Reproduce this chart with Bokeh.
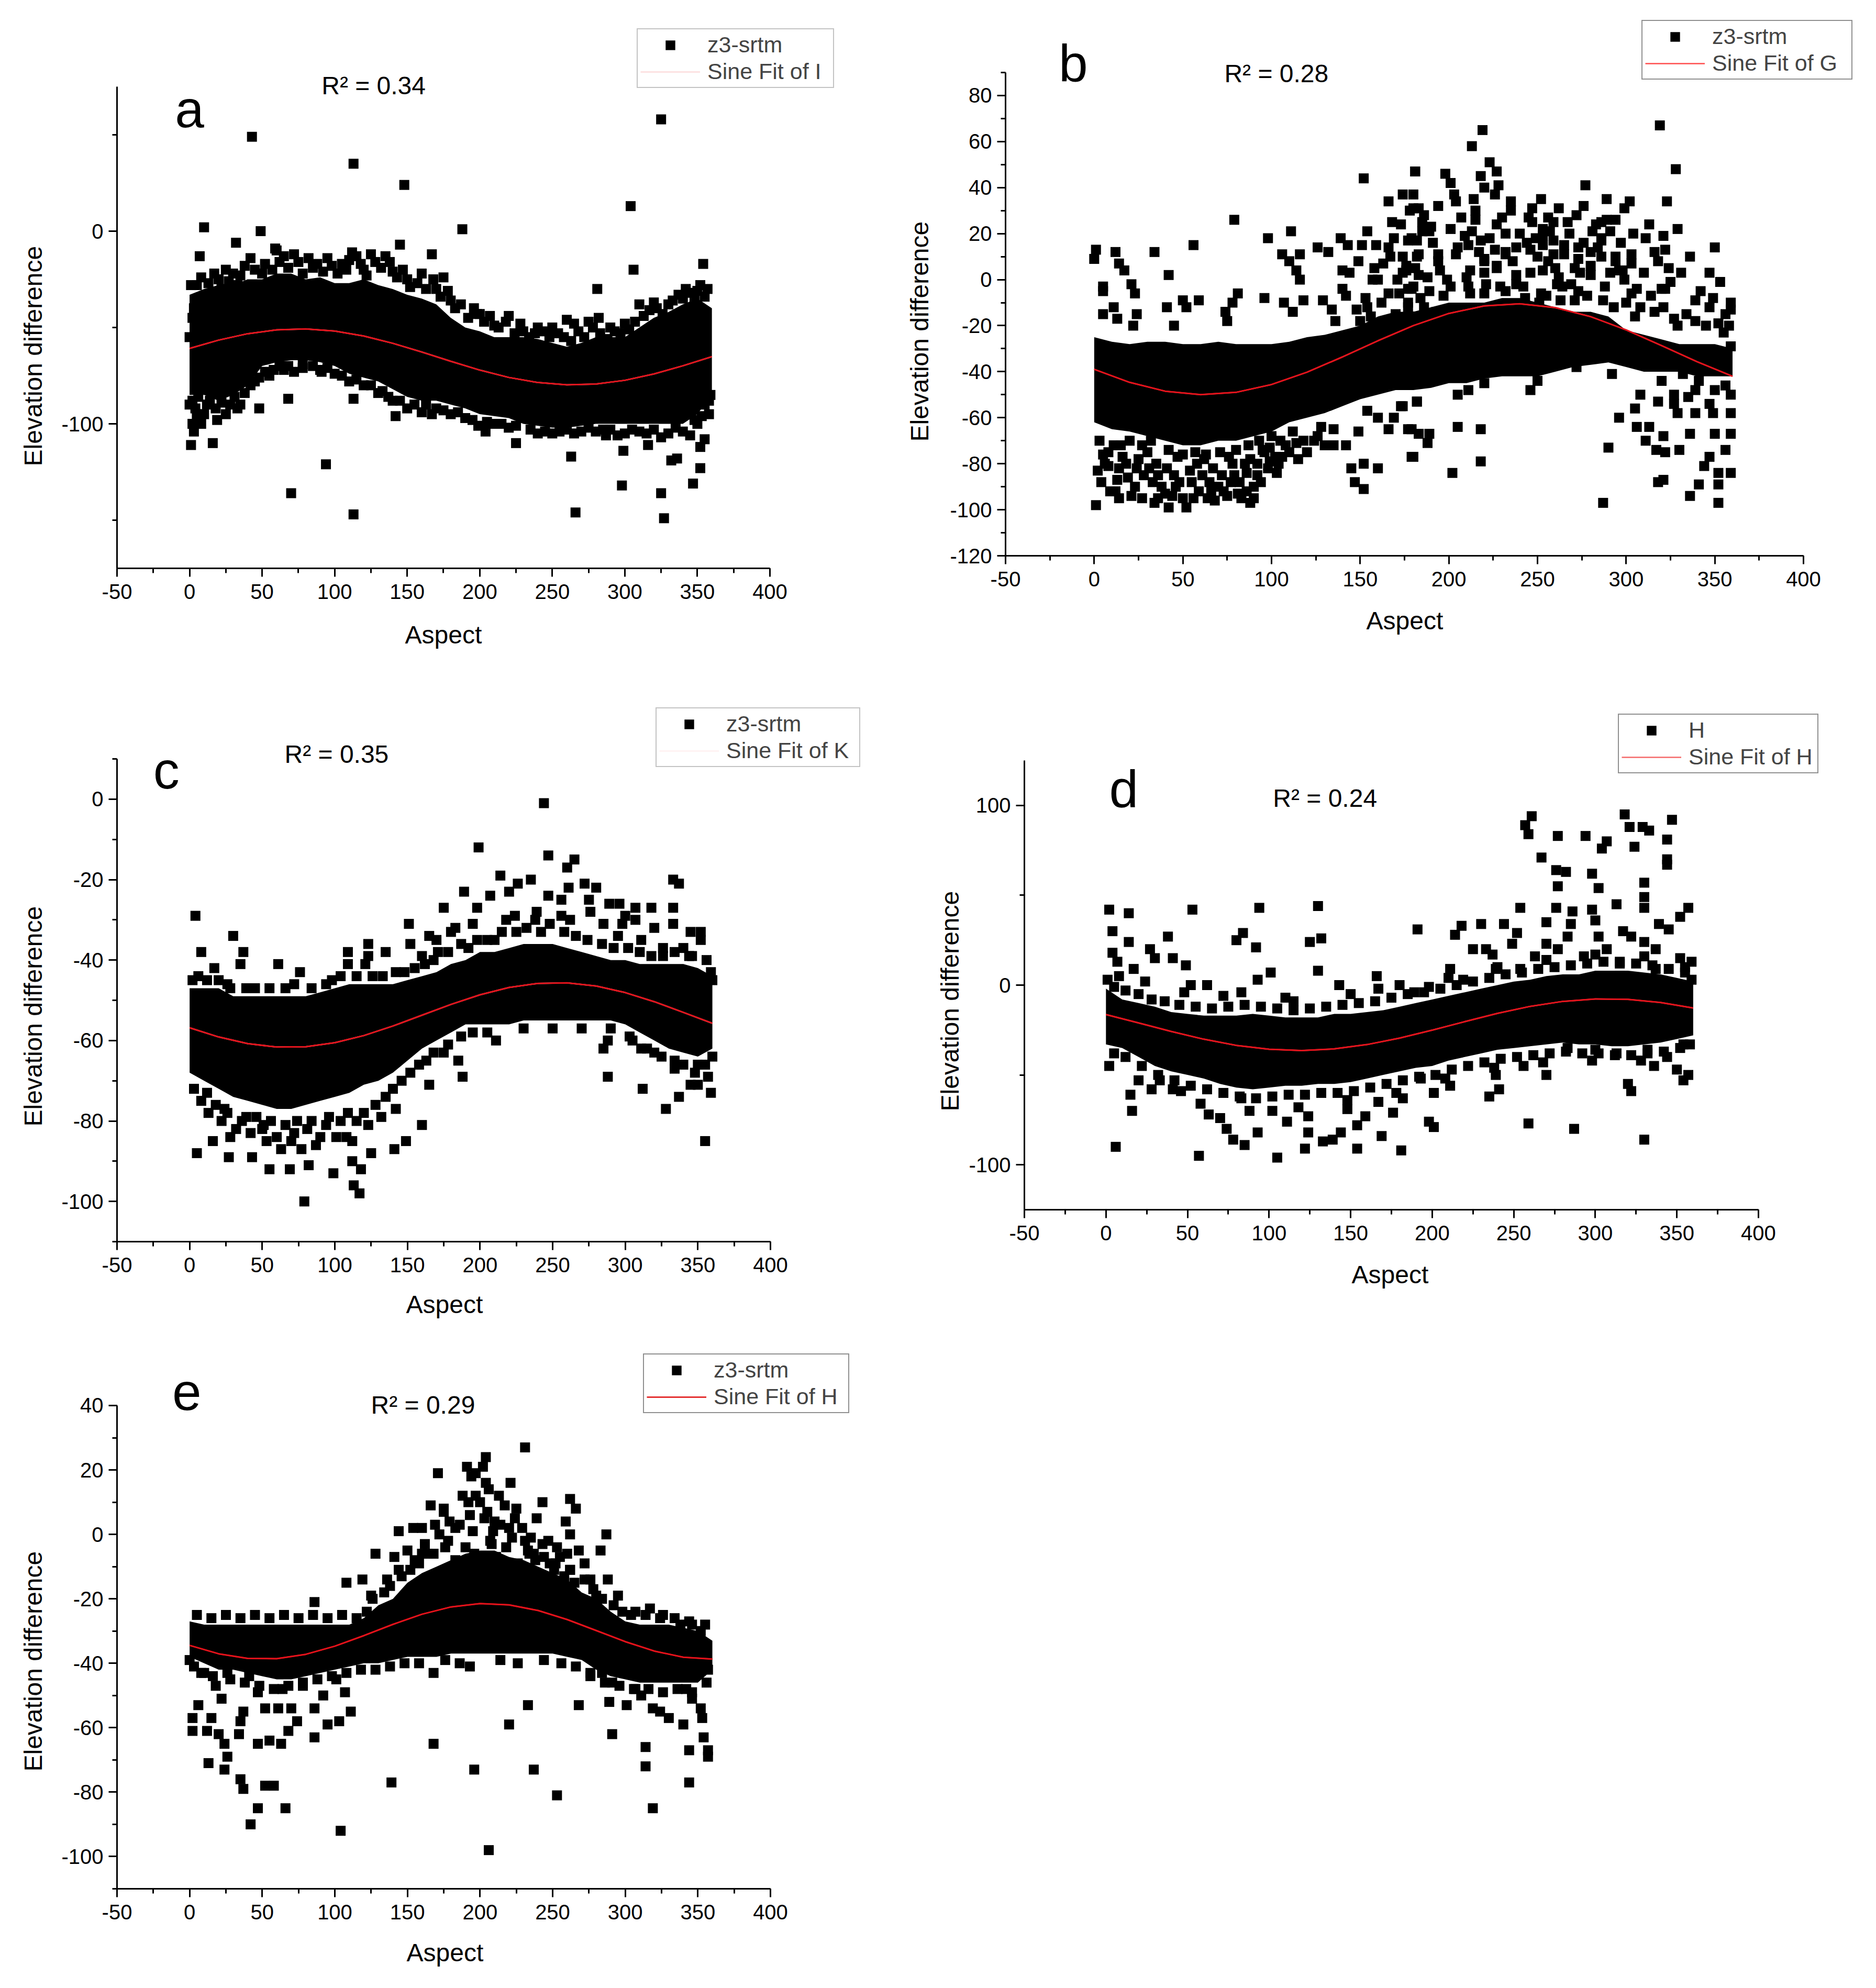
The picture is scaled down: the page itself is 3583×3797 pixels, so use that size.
from bokeh.plotting import figure
from bokeh.models import (Range1d, SingleIntervalTicker, Label, Legend, LegendItem, Title,
                          PrintfTickFormatter)
from bokeh.layouts import column, row
from bokeh.embed import file_html
from bokeh.resources import INLINE

FONT = "Liberation Sans"

band_aspect = list(range(0, 361, 10))
fit_aspect = list(range(0, 361, 20))

# ---------------- panel a ----------------
a_points = [(43,49),(113,35),(148,24),(325,58),(304,13),(10,2),(49,0),(188,1),(32,-6),(145,-7),(7,-13),(59,-9),
            (167,-12),(306,-20),(354,-17),(175,-24),(281,-30),(282,-45),(198,-43),(220,-44),
            (1,-111),(16,-110),(19,-98),(33,-92),(48,-92),(68,-87),(94,-121),(70,-136),(113,-147),(113,-87),
            (142,-96),(91,-73),(78,-71),(199,-101),(204,-104),(225,-110),(263,-117),(266,-146),(287,-106),
            (299,-114),(298,-132),(316,-111),(325,-136),(327,-149),(332,-119),(336,-118),(347,-131),(352,-123),
            (352,-112),(355,-108),(358,-95),(359,-85),
            (60,-10),(65,-13),(75,-16),(85,-19),(95,-14),(105,-17),(110,-15),(115,-13),(120,-20),(125,-12),
            (135,-13),(140,-21),(150,-25),(160,-22),(170,-30),(180,-36),(200,-43),(210,-49),(230,-52),(240,-50),
            (250,-50),(260,-46),(265,-48),(275,-47),(290,-50),(300,-48),(310,-38),(320,-37),(330,-38),(340,-35),
            (345,-32),(350,-31),(355,-34),(20,-25),(30,-22),(45,-20),(50,-22),(3,-40),(5,-28),(25,-20),(35,-23),
            (5,-95),(8,-100),(12,-90),(25,-95),(35,-90),(45,-78),(55,-75),(65,-72),(100,-74),(120,-80),(130,-84),
            (140,-88),(150,-92),(160,-94),(170,-92),(180,-95),(190,-97),(210,-100),(220,-102),(240,-105),
            (250,-105),(260,-103),(270,-104),(285,-103),(300,-105),(310,-104),(330,-105),(340,-104),(350,-100),
            (355,-90),(2,-100),(0,-90),(3,-104),
            (38,-18),(42,-14),(52,-17),(57,-20),(62,-16),(68,-19),(72,-12),(78,-22),(82,-14),(88,-17),(92,-21),
            (98,-18),(102,-22),(108,-20),(112,-11),(118,-17),(122,-23),(128,-16),(132,-19),(138,-16),(143,-24),
            (147,-20),(152,-29),(157,-27),(163,-30),(168,-25),(173,-34),(178,-31),(183,-40),(187,-38),(192,-45),
            (196,-40),(203,-47),(207,-44),(213,-50),(218,-47),(224,-53),(228,-48),(234,-55),(238,-53),(244,-52),
            (248,-55),(254,-53),(258,-55),(263,-57),(268,-52),(272,-55),(278,-50),(283,-53),(288,-56),(293,-52),
            (297,-53),(303,-51),(307,-47),(313,-44),(317,-41),(322,-40),(326,-43),(333,-36),(337,-33),(342,-30),
            (348,-36),(352,-28),(357,-30),(1,-28),(8,-24),(13,-27),(17,-22),(22,-30),(27,-26),(33,-28),(2,-45),
            (0,-55),
            (2,-88),(4,-92),(6,-86),(10,-95),(14,-88),(18,-92),(22,-89),(28,-90),(31,-86),(38,-84),(42,-80),
            (48,-76),(52,-73),(58,-72),(62,-70),(68,-70),(72,-73),(78,-69),(85,-70),(90,-72),(95,-71),(105,-75),
            (110,-78),(115,-77),(125,-80),(133,-83),(137,-86),(145,-88),(155,-90),(163,-90),(167,-95),(175,-93),
            (185,-94),(195,-98),(205,-99),(215,-100),(225,-101),(235,-103),(245,-104),(255,-104),(265,-105),
            (275,-102),(280,-104),(290,-103),(295,-106),(305,-103),(315,-105),(320,-103),(325,-107),(335,-102),
            (345,-106),(348,-98),(353,-96),(358,-88)]
a_band_hi = [-33,-30,-28,-28,-25,-25,-22,-22,-25,-24,-27,-27,-25,-28,-30,-33,-35,-38,-45,-50,-52,-55,-55,-55,
             -56,-58,-60,-58,-55,-55,-55,-50,-45,-42,-38,-35,-40]
a_band_lo = [-85,-85,-88,-85,-80,-70,-68,-67,-67,-68,-70,-74,-76,-78,-82,-86,-88,-88,-90,-92,-95,-96,-97,-100,
             -101,-102,-102,-101,-100,-100,-100,-100,-100,-100,-100,-95,-85]
a_fit = [-60.85,-56.56,-53.23,-51.21,-50.73,-51.84,-54.42,-58.18,-62.72,-67.54,-72.10,-75.92,-78.56,-79.75,
         -79.35,-77.41,-74.13,-69.88,-65.13]

# ---------------- panel b ----------------
b_points = [(1,13),(0,9),(12,12),(34,12),(56,15),(42,2),(79,26),(98,18),(111,21),(14,7),(17,4),(21,-2),(23,-6),
            (5,-3),(5,-5),(11,-12),(5,-15),(13,-17),(24,-15),(22,-20),(41,-12),(50,-9),(59,-9),(52,-12),(45,-20),
            (74,-14),(81,-6),(78,-10),(75,-18),(96,-8),(106,11),(110,8),(116,11),(114,4),(116,0),(107,-10),(118,-9),
            (112,-14),(126,14),(132,12),(129,-9),(134,-13),(136,-18),(139,18),(143,15),(140,4),(144,3),(140,-4),
            (142,-7),(152,44),(154,21),(151,15),(149,8),(148,-13),(154,-12),(157,0),(159,15),(163,7),(166,34),
            (166,14),(169,18),(173,24),(174,37),(181,47),(180,37),(178,30),(183,31),(176,6),(171,0),(179,-4),
            (177,-12),(166,-6),(160,0),(182,17),(185,21),
            (1,-98),(2,-83),(5,-76),(8,-81),(12,-92),(21,-94),(13,-87),(16,-77),(24,-82),(30,-75),(33,-88),(34,-97),
            (42,-99),(44,-94),(41,-82),(52,-99),(56,-95),(47,-77),(61,-85),(64,-95),(67,-82),(75,-94),(83,-95),
            (88,-97),(79,-85),(76,-77),(86,-84),(92,-80),(98,-82),(103,-84),(106,-77),(95,-74),(100,-68),(114,-71),
            (124,-70),(128,-64),(135,-65),(135,-72),(142,-72),(149,-66),(145,-82),(152,-80),(147,-88),(152,-91),
            (160,-82),(166,-65),(160,-60),(169,-60),(173,-55),(154,-57),(177,-65),(180,-77),(183,-67),(182,-53),
            (176,-45),
            (3,-70),(8,-75),(15,-72),(18,-80),(25,-78),(28,-85),(35,-80),(38,-90),(45,-85),(48,-88),(55,-88),
            (58,-80),(65,-88),(70,-90),(72,-85),(78,-80),(82,-88),(88,-78),(92,-85),(96,-75),(102,-77),(108,-72),
            (112,-66),(118,-70),
            (4,-88),(9,-92),(14,-95),(19,-86),(23,-90),(27,-95),(31,-82),(36,-85),(40,-93),(46,-90),(50,-95),
            (54,-83),(59,-92),(62,-78),(68,-96),(73,-92),(77,-88),(81,-93),(85,-80),(90,-90),(94,-88),(99,-79),
            (104,-80),(110,-75),(115,-78),(120,-75),(126,-68),(130,-72),(6,-80),(11,-72),(20,-70),(27,-72),
            (32,-70),(42,-74),(50,-76),(57,-75),(63,-76),(71,-75),(80,-74),(87,-72),(93,-70),(99,-73),(105,-70),
            (14,-82),(36,-95),(66,-92),(86,-92),(90,-95),
            (219,65),(213,58),(223,51),(227,47),(218,45),(181,47),(198,46),(201,42),(228,41),(220,40),(203,37),
            (214,35),(226,37),(204,34),(194,32),(180,31),(235,34),(235,30),(215,30),(252,35),(247,31),(262,31),
            (256,27),(247,25),(277,41),(276,32),(272,28),(289,35),(302,34),(299,31),(294,26),(286,25),(286,17),
            (291,21),(281,21),(319,67),(328,48),(323,34),(329,22),(321,19),(311,18),(316,12),(322,13),(350,14),
            (347,3),(353,-1),(325,-1),(322,-4),(314,-7),(321,-12),(339,-9),(347,-12),(359,-10),(359,-13),(339,-18),
            (352,-19),(355,-23),(359,-29),(329,-20),(305,-16),(306,-4),(296,4),(303,7),(299,0),(286,10),(294,10),
            (280,6),(274,3),(273,14),(265,15),(259,11),(253,15),(246,13),(238,14),(232,11),(227,6),(220,8),(212,4),
            (211,15),(205,14),(194,11),(183,11),(177,17),(189,21),(176,4),(188,1),(199,0),(211,-3),(220,-6),
            (229,-3),(238,-2),(246,3),(255,-7),(264,-3),(271,-9),(177,-10),(186,-12),(197,-7),(180,-3),
            (185,25),(190,23),(215,26),(227,24),(245,27),(253,22),(259,25),(283,24),(289,26),
            (179,18),(209,19),(218,17),(232,20),(244,16),(253,19),(259,17),(268,20),(286,18),
            (182,10),(194,8),(204,11),(220,9),(232,12),(250,10),(256,8),(265,11),(273,9),(280,12),(294,8),(303,11),
            (174,3),(183,2),(195,4),(210,1),(220,3),(227,5),(238,2),(253,4),(262,1),(271,5),(280,2),(298,4),
            (177,-4),(189,-5),(201,-3),(212,-6),(221,-2),(232,-5),(242,-3),(252,-6),(261,-2),(273,-5),(288,-3),
            (303,-6),(320,-4),
            (150,-18),(153,-8),(156,-16),(158,5),(162,-10),(164,-18),(167,10),(170,-15),(172,-6),(174,10),
            (178,-16),(181,5),(184,-8),(187,-17),(168,25),(186,28),(191,16),(193,-14),
            (201,22),(207,27),(213,21),(217,12),(223,18),(226,13),(230,27),(236,8),(240,20),(243,-8),(249,18),
            (251,-10),(257,21),(260,5),(263,-9),(267,25),(269,-2),(276,16),(278,-7),(284,14),(287,-9),(291,3),
            (293,-12),(297,16),(300,-10),(304,20),(308,-12),(310,3),(313,24),(316,-14),(318,8),(324,5),(327,-17),
            (331,3),(334,-15),(336,10),(342,-5),(345,-20),(349,-8),(356,-15),(358,-20),
            (174,-55),(182,-53),(179,-65),(179,-77),(189,-67),(188,-71),(202,-84),(205,-64),(205,-50),(211,-48),
            (218,-65),(218,-79),(220,-45),(246,-48),(250,-44),(272,-38),(292,-41),(296,-60),(290,-73),(287,-97),
            (306,-64),(305,-56),(308,-50),(313,-64),(311,-70),(317,-74),(322,-75),(321,-68),(318,-53),(327,-50),
            (329,-58),(330,-74),(318,-88),(321,-87),(336,-67),(339,-58),(335,-51),(336,-94),(341,-89),(344,-81),
            (347,-77),(350,-67),(349,-58),(347,-54),(350,-48),(356,-46),(359,-50),(359,-58),(359,-67),(356,-74),
            (359,-84),(352,-84),(352,-89),(352,-97),(327,-54),(320,-44),(332,-41),(341,-44),(339,-48)]
b_band_hi = [-25,-27,-28,-27,-27,-28,-28,-27,-28,-28,-28,-27,-25,-24,-22,-20,-16,-14,-14,-12,-10,-10,-10,-8,
             -8,-10,-12,-14,-14,-16,-22,-24,-26,-28,-28,-28,-30]
b_band_lo = [-62,-65,-66,-68,-70,-72,-72,-70,-70,-68,-66,-62,-60,-58,-55,-52,-50,-48,-48,-47,-45,-45,-43,-42,
             -42,-42,-40,-38,-37,-36,-38,-40,-40,-40,-42,-42,-42]
b_fit = [-38.98,-44.65,-48.48,-49.99,-48.98,-45.58,-40.23,-33.60,-26.55,-19.97,-14.70,-11.41,-10.53,-12.16,
         -16.10,-21.84,-28.66,-35.67,-42.00]

# ---------------- panel c ----------------
c_points = [(244,-1),(199,-12),(247,-14),(260,-17),(265,-15),(214,-19),(226,-21),(235,-20),(220,-23),(261,-22),
            (272,-21),(280,-22),(333,-20),(337,-21),(189,-23),(207,-24),(247,-24),(275,-25),(256,-25),(289,-26),
            (296,-26),(307,-27),(318,-27),(333,-27),(175,-27),(198,-27),(224,-29),(239,-28),(256,-29),(276,-28),
            (298,-31),(307,-30),(333,-31),(4,-29),(151,-31),(152,-36),(165,-34),(30,-34),(8,-38),(37,-38),(35,-41),
            (61,-41),(17,-42),(123,-36),(123,-39),(135,-38),(109,-38),(109,-41),(76,-43),(94,-46),(148,-43),
            (160,-39),(171,-38),(183,-32),(187,-36),(210,-35),(295,-34),(311,-35),(326,-37),(352,-33),(352,-35),
            (359,-43),(340,-37),(346,-39),(39,-47),(26,-46),(121,-41),
            (5,-88),(16,-85),(13,-78),(27,-89),(28,-84),(43,-89),(55,-92),(53,-85),(63,-87),(69,-92),(70,-85),
            (79,-100),(81,-82),(82,-91),(87,-86),(99,-93),(101,-84),(112,-85),(112,-90),(113,-96),(117,-98),
            (118,-92),(125,-88),(141,-87),(149,-85),(160,-81),(142,-77),(132,-79),(39,-79),(51,-81),(74,-80),
            (94,-81),(109,-78),(123,-81),(24,-77),(165,-71),(163,-65),(175,-63),(187,-59),(185,-65),(188,-69),
            (211,-60),(303,-59),(288,-60),(285,-62),(288,-69),(311,-62),(312,-72),(320,-63),(328,-77),(334,-65),
            (334,-67),(337,-74),(345,-71),(350,-66),(357,-69),(359,-73),(355,-85),(350,-71),
            (3,-72),(8,-75),(12,-73),(18,-76),(22,-80),(26,-78),(32,-82),(36,-80),(42,-83),(46,-79),(50,-82),
            (56,-80),(60,-84),(66,-81),(72,-83),(77,-87),(84,-80),(90,-84),(96,-79),(104,-80),(108,-84),(115,-80),
            (120,-78),(128,-76),(135,-74),(140,-72),(146,-70),(152,-68),(158,-66),(168,-63),(178,-61),(195,-58),
            (205,-58),(230,-57),(250,-57),(270,-57),(290,-57),(305,-60),(315,-62),(325,-64),(340,-66),(348,-68),
            (355,-66),(360,-64),
            (2,-45),(6,-44),(12,-45),(20,-45),(28,-47),(45,-47),(55,-47),(66,-47),(72,-46),(84,-47),(98,-45),
            (104,-44),(115,-44),(126,-44),(133,-44),(142,-43),(155,-42),(162,-41),(168,-40),(178,-38),(192,-37),
            (198,-35),(205,-35),(215,-33),(225,-33),(232,-32),(242,-33),(248,-31),(258,-33),(266,-34),(274,-35),
            (284,-36),(292,-37),(302,-37),(310,-38),(318,-39),(326,-39),(334,-38),(344,-39),(356,-40),(360,-45),
            (218,-30),(238,-30),(262,-30),(285,-31),(300,-29),(320,-32),(345,-33),(195,-31),(180,-33),(170,-35)]
c_band_hi = [-47,-47,-47,-49,-49,-49,-49,-49,-49,-48,-47,-46,-46,-46,-46,-45,-44,-43,-41,-40,-38,-38,-37,-36,
             -36,-36,-37,-38,-39,-40,-40,-41,-41,-41,-41,-42,-44]
c_band_lo = [-68,-70,-72,-74,-75,-76,-77,-77,-76,-75,-74,-73,-71,-70,-68,-65,-62,-60,-58,-56,-56,-56,-56,-55,
             -55,-55,-55,-55,-55,-55,-56,-58,-60,-62,-63,-64,-62]
c_fit = [-56.83,-59.12,-60.78,-61.62,-61.54,-60.55,-58.77,-56.40,-53.71,-51.02,-48.63,-46.81,-45.79,-45.66,
         -46.46,-48.09,-50.35,-53.00,-55.72]

# ---------------- panel d ----------------
d_points = [(2,42),(14,40),(4,30),(14,24),(4,18),(7,13),(17,9),(1,3),(27,20),(30,15),(38,27),(41,15),(49,11),
            (53,42),(52,0),(62,0),(80,25),(84,29),(92,21),(94,43),(101,7),(93,3),(83,-4),(125,24),(132,26),
            (130,44),(130,8),(115,-9),(143,0),(166,5),(167,-2),(191,31),(189,-4),(198,-1),(214,28),(218,33),
            (211,9),(219,3),(225,20),(230,34),(233,20),(237,17),(244,34),(249,23),(252,29),(254,43),(257,89),
            (261,94),(259,84),(267,71),(276,64),(282,63),(277,55),(277,83),(276,43),(270,35),(286,41),(285,34),
            (283,27),(270,23),(277,20),(294,83),(298,62),(304,76),(307,80),(302,54),(298,42),(300,36),(302,27),
            (313,45),(318,95),(321,88),(324,77),(329,88),(333,86),(330,57),(330,49),(330,43),(347,92),(344,81),
            (344,70),(344,67),(339,34),(345,31),(352,38),(357,43),(317,30),(322,27),(330,24),(337,20),(352,15),
            (359,13),(359,3),(307,20),(293,16),(263,16),(254,9),(239,9),(315,12),(337,9),
            (6,-90),(2,-45),(15,-61),(16,-70),(20,-53),(33,-53),(41,-58),(46,-59),(57,-95),(63,-72),(70,-74),
            (74,-80),(78,-86),(85,-89),(93,-82),(83,-63),(102,-70),(105,-96),(111,-76),(122,-91),(124,-73),
            (124,-82),(133,-87),(139,-86),(144,-82),(148,-69),(154,-78),(154,-91),(159,-73),(169,-84),(176,-71),
            (181,-92),(167,-65),(182,-63),(193,-52),(198,-76),(201,-79),(201,-60),(211,-56),(235,-62),(241,-58),
            (239,-50),(259,-77),(256,-45),(270,-50),(287,-80),(320,-55),(322,-59),(330,-86),(336,-45),(350,-47),
            (354,-53),(357,-50),(344,-40),(354,-33),(313,-38),(300,-36),(283,-35),(332,-36),
            (5,-1),(12,-3),(20,-5),(28,-8),(36,-9),(45,-11),(55,-12),(65,-13),(75,-12),(85,-11),(95,-12),
            (105,-13),(115,-14),(125,-13),(135,-12),(145,-11),(155,-10),(165,-9),(175,-7),(185,-5),(195,-4),
            (205,-2),(215,0),(225,2),(235,4),(245,6),(255,7),(265,9),(275,10),(285,11),(295,12),(305,13),(315,13),
            (325,12),(335,11),(345,9),(355,7),(8,5),(24,2),(48,-4),(72,-6),(110,-7),(150,-5),(180,0),(210,4),
            (240,10),(270,14),(300,17),(330,16),(355,10),
            (5,-38),(12,-40),(22,-45),(32,-50),(42,-53),(52,-56),(62,-58),(72,-60),(82,-62),(92,-63),(102,-62),
            (112,-61),(122,-61),(132,-60),(142,-60),(152,-59),(162,-57),(172,-55),(182,-53),(192,-51),(202,-50),
            (212,-47),(222,-45),(232,-43),(242,-41),(252,-40),(262,-39),(272,-38),(282,-37),(292,-38),(302,-38),
            (312,-39),(322,-39),(332,-38),(342,-37),(352,-35),(358,-33),(28,-58),(58,-66),(88,-70),(118,-68),
            (148,-64),(178,-60),(208,-52),(238,-46),(268,-43),(298,-42),(328,-42)]
d_band_hi = [-2,-8,-10,-12,-15,-16,-17,-17,-17,-16,-17,-18,-18,-18,-16,-16,-15,-14,-12,-10,-8,-6,-4,-2,0,2,3,
             5,6,6,8,8,8,7,6,4,2]
d_band_lo = [-33,-35,-40,-45,-48,-50,-52,-55,-57,-58,-57,-56,-56,-55,-55,-54,-52,-50,-48,-46,-45,-42,-40,-38,
             -36,-35,-34,-33,-32,-33,-33,-34,-34,-33,-32,-30,-28]
d_fit = [-16.39,-21.03,-25.78,-30.11,-33.55,-35.72,-36.40,-35.49,-33.10,-29.50,-25.08,-20.32,-15.74,-11.84,
         -9.07,-7.71,-7.92,-9.67,-12.77]

# ---------------- panel e ----------------
e_points = [(231,27),(204,24),(202,21),(171,19),(191,21),(197,19),(194,18),(221,16),(204,16),(206,14),(197,12),
            (192,10),(243,10),(262,11),(266,8),(217,9),(225,8),(239,5),(259,4),(287,0),(262,0),(235,-1),(283,-5),
            (288,-14),(166,9),(175,7),(179,4),(169,3),(154,2),(144,1),(183,2),(210,4),(220,2),(128,-6),(141,-7),
            (150,-5),(160,-6),(125,-19),(108,-15),(119,-14),(86,-21),(136,-14),(144,-11),(276,-14),(280,-19),
            (272,-9),(253,-4),(247,-2),(260,-6),(262,-11),(251,-11),(237,-6),(295,-19),(307,-24),(317,-23),
            (326,-25),(338,-28),(346,-28),(352,-30),
            (155,-8),(162,-3),(168,-6),(172,0),(178,-2),(183,-8),(186,3),(190,-4),(195,1),(198,-9),(203,5),
            (207,-2),(211,-7),(214,3),(218,-4),(222,-1),(226,-9),(229,2),(233,-5),(238,-8),(243,-3),(248,-9),
            (255,-7),(258,-13),(265,-15),(268,-5),(160,2),(175,8),(188,12),(200,10),(205,7),(213,12),(185,-11),
            (193,6),(196,-6),(209,1),(224,5),(231,-2),(215,-11),
            (0,-39),(4,-37),(2,-57),(2,-61),(6,-53),(12,-61),(13,-71),(15,-57),(22,-51),(18,-47),(10,-43),(24,-73),
            (26,-69),(24,-65),(20,-62),(26,-43),(35,-76),(37,-79),(34,-62),(35,-58),(37,-55),(42,-90),(47,-85),
            (52,-78),(58,-78),(66,-85),(47,-65),(52,-54),(55,-64),(63,-65),(61,-54),(68,-61),(74,-58),(70,-54),
            (64,-48),(47,-49),(41,-44),(86,-63),(86,-54),(92,-50),(95,-59),(104,-92),(103,-58),(111,-55),(107,-49),
            (78,-47),(101,-45),(139,-77),(168,-65),(168,-43),(193,-41),(196,-73),(206,-98),(220,-59),(233,-53),
            (237,-73),(253,-81),(268,-53),(276,-43),(284,-43),(289,-52),(291,-62),(291,-46),(301,-53),(307,-48),
            (314,-66),(314,-72),(319,-85),(311,-50),(319,-54),(324,-55),(330,-57),(340,-59),(336,-44),(342,-48),
            (346,-51),(352,-54),(353,-57),(344,-67),(344,-77),(354,-63),(357,-67),(357,-69),(357,-42),(324,-44),
            (311,-44),
            (5,-25),(15,-26),(25,-25),(35,-26),(45,-25),(55,-26),(65,-25),(75,-26),(85,-25),(95,-26),(105,-25),
            (115,-26),(122,-24),(126,-20),(134,-18),(138,-16),(146,-13),(152,-11),(158,-9),(164,-6),(176,-4),
            (208,-3),(234,-6),(244,-7),(252,-9),(262,-11),(272,-14),(278,-17),(284,-20),(292,-22),(298,-24),
            (304,-25),(314,-25),(324,-26),(334,-26),(344,-27),(355,-28),
            (3,-41),(8,-43),(16,-44),(28,-45),(38,-46),(48,-47),(58,-48),(68,-47),(78,-46),(88,-45),(98,-44),
            (108,-43),(118,-42),(128,-42),(138,-41),(148,-40),(158,-40),(176,-39),(186,-40),(214,-39),(226,-40),
            (244,-39),(256,-40),(266,-41),(276,-44),(286,-46),(296,-47),(306,-48),(316,-48),(326,-49),(336,-48),
            (346,-49),(356,-46)]
e_band_hi = [-27,-28,-28,-28,-28,-28,-28,-28,-28,-28,-28,-28,-26,-22,-20,-15,-12,-10,-8,-6,-5,-5,-7,-8,-10,-12,
             -14,-18,-20,-24,-27,-28,-28,-28,-29,-30,-33]
e_band_lo = [-38,-40,-42,-42,-43,-44,-45,-45,-44,-43,-42,-41,-40,-40,-39,-38,-38,-38,-37,-37,-37,-37,-37,-37,
             -37,-37,-38,-39,-42,-44,-45,-46,-46,-46,-46,-46,-42]
e_fit = [-34.46,-37.06,-38.50,-38.56,-37.22,-34.70,-31.42,-27.93,-24.78,-22.51,-21.49,-21.88,-23.63,-26.43,
         -29.84,-33.29,-36.21,-38.12,-38.70]


def make_panel(points, band_hi, band_lo, fit, x_end, y_lo, y_hi, y_top, y_step, frame_w, frame_h,
               b_left, b_right, b_top, b_bottom, letter, letter_xy, r2_text, r2_xy,
               leg_labels, leg_loc, leg_label_w, leg_line_color, leg_border,
               xlab_off, xlab_standoff, ylab_off, ylab_standoff):
    p = figure(x_range=Range1d(-50, x_end), y_range=Range1d(y_lo, y_top),
               frame_width=frame_w, frame_height=frame_h,
               min_border_left=b_left, min_border_right=b_right,
               min_border_top=b_top, min_border_bottom=b_bottom,
               output_backend="svg", toolbar_location=None,
               outline_line_color=None, background_fill_color="white",
               border_fill_color="white")
    p.grid.visible = False
    p.xaxis.ticker = SingleIntervalTicker(interval=50, num_minor_ticks=2)
    p.yaxis.ticker = SingleIntervalTicker(interval=y_step, num_minor_ticks=2)
    p.xaxis.bounds = (-50, 400)
    p.yaxis.bounds = (y_lo, y_hi)
    for ax in (p.xaxis[0], p.yaxis[0]):
        ax.formatter = PrintfTickFormatter(format="%d")
        ax.axis_line_width = 3
        ax.axis_line_color = "black"
        ax.major_tick_line_width = 3
        ax.minor_tick_line_width = 3
        ax.major_tick_in = 0
        ax.major_tick_out = 16
        ax.minor_tick_in = 0
        ax.minor_tick_out = 9
        ax.major_label_text_font = FONT
        ax.major_label_text_font_size = "40px"
        ax.major_label_text_color = "black"
    p.xaxis.major_label_standoff = 14
    p.yaxis.major_label_standoff = 10

    p.add_layout(Title(text="Aspect", align="left", offset=xlab_off, standoff=xlab_standoff,
                       text_font=FONT, text_font_size="48px", text_font_style="normal",
                       text_color="black"), "below")
    p.add_layout(Title(text="Elevation difference", align="left", offset=ylab_off,
                       standoff=ylab_standoff, text_font=FONT, text_font_size="48px",
                       text_font_style="normal", text_color="black"), "left")

    xs = [q[0] for q in points]
    ys = [q[1] for q in points]
    p.varea(x=band_aspect, y1=band_lo, y2=band_hi, fill_color="black")
    pts = p.scatter(xs, ys, marker="square", size=19, fill_color="black", line_color=None)
    # legend swatch of the fit line (hidden under the drawn fit line)
    leg_ln = p.line(fit_aspect, fit, line_color=leg_line_color, line_width=2.5)
    p.line(fit_aspect, fit, line_color="#e3121b", line_width=3)

    legend = Legend(items=[LegendItem(label=leg_labels[0], renderers=[pts]),
                           LegendItem(label=leg_labels[1], renderers=[leg_ln])],
                    location=leg_loc, orientation="vertical",
                    label_text_font=FONT, label_text_font_size="43px",
                    glyph_width=114, glyph_height=46, label_height=46, label_width=leg_label_w,
                    label_standoff=14, padding=5, spacing=2, margin=0,
                    border_line_color=leg_border, border_line_width=2,
                    background_fill_color="white", background_fill_alpha=1.0)
    p.add_layout(legend)

    p.add_layout(Label(x=letter_xy[0], y=letter_xy[1], text=letter, text_font=FONT,
                       text_font_size="100px", text_color="black",
                       text_align="left", text_baseline="alphabetic"))
    p.add_layout(Label(x=r2_xy[0], y=r2_xy[1], text=r2_text, text_font=FONT,
                       text_font_size="48px", text_color="black",
                       text_align="left", text_baseline="alphabetic"))
    return p


fa = make_panel(a_points, a_band_hi, a_band_lo, a_fit, 449.44, -175, 75, 111.96, 100, 1384, 1056,
                223, 15, 29, 249, "a", (-10, 63.5), "R\u00b2 = 0.34", (91, 75.6),
                ("z3-srtm", "Sine Fit of I"), (993, 917), 235, "#fcdcdc", "#888888",
                550, 74, 195, 50)
fb = make_panel(b_points, b_band_hi, b_band_lo, b_fit, 431.89, -120, 90, 114.80, 20, 1632, 1032,
                298, 15, 29, 273, "b", (-20, 94), "R\u00b2 = 0.28", (73.4, 89.6),
                ("z3-srtm", "Sine Fit of G"), (1215, 909), 261, "#ff4d4d", "#222222",
                689, 68, 218, 57)
fc = make_panel(c_points, c_band_hi, c_band_lo, c_fit, 464.18, -110, 10, 24.32, 20, 1426, 1032,
                223, 15, 5, 199, "c", (-25, 7.2), "R\u00b2 = 0.35", (65.4, 11.2),
                ("z3-srtm", "Sine Fit of K"), (1029, 906), 249, "#fff0f0", "#888888",
                552, 60, 220, 50)
fd = make_panel(d_points, d_band_hi, d_band_lo, d_fit, 438.84, -125, 125, 157.93, 100, 1523, 971,
                292, 88, 5, 260, "d", (2, 109), "R\u00b2 = 0.24", (102.4, 104),
                ("H", "Sine Fit of H"), (1134, 833), 241, "#f46a6a", "#222222",
                625, 68, 188, 13)
fe = make_panel(e_points, e_band_hi, e_band_lo, e_fit, 456.61, -110, 40, 58.20, 20, 1405, 1035,
                223, 20, 2, 172, "e", (-12, 44.2), "R\u00b2 = 0.29", (124.9, 40.2),
                ("z3-srtm", "Sine Fit of H"), (1005, 908), 252, "#e01010", "#222222",
                553, 64, 224, 50)

layout = column(row(fa, fb), row(fc, fd), row(fe))
open("out.html", "w", encoding="utf-8").write(file_html(layout, INLINE))
